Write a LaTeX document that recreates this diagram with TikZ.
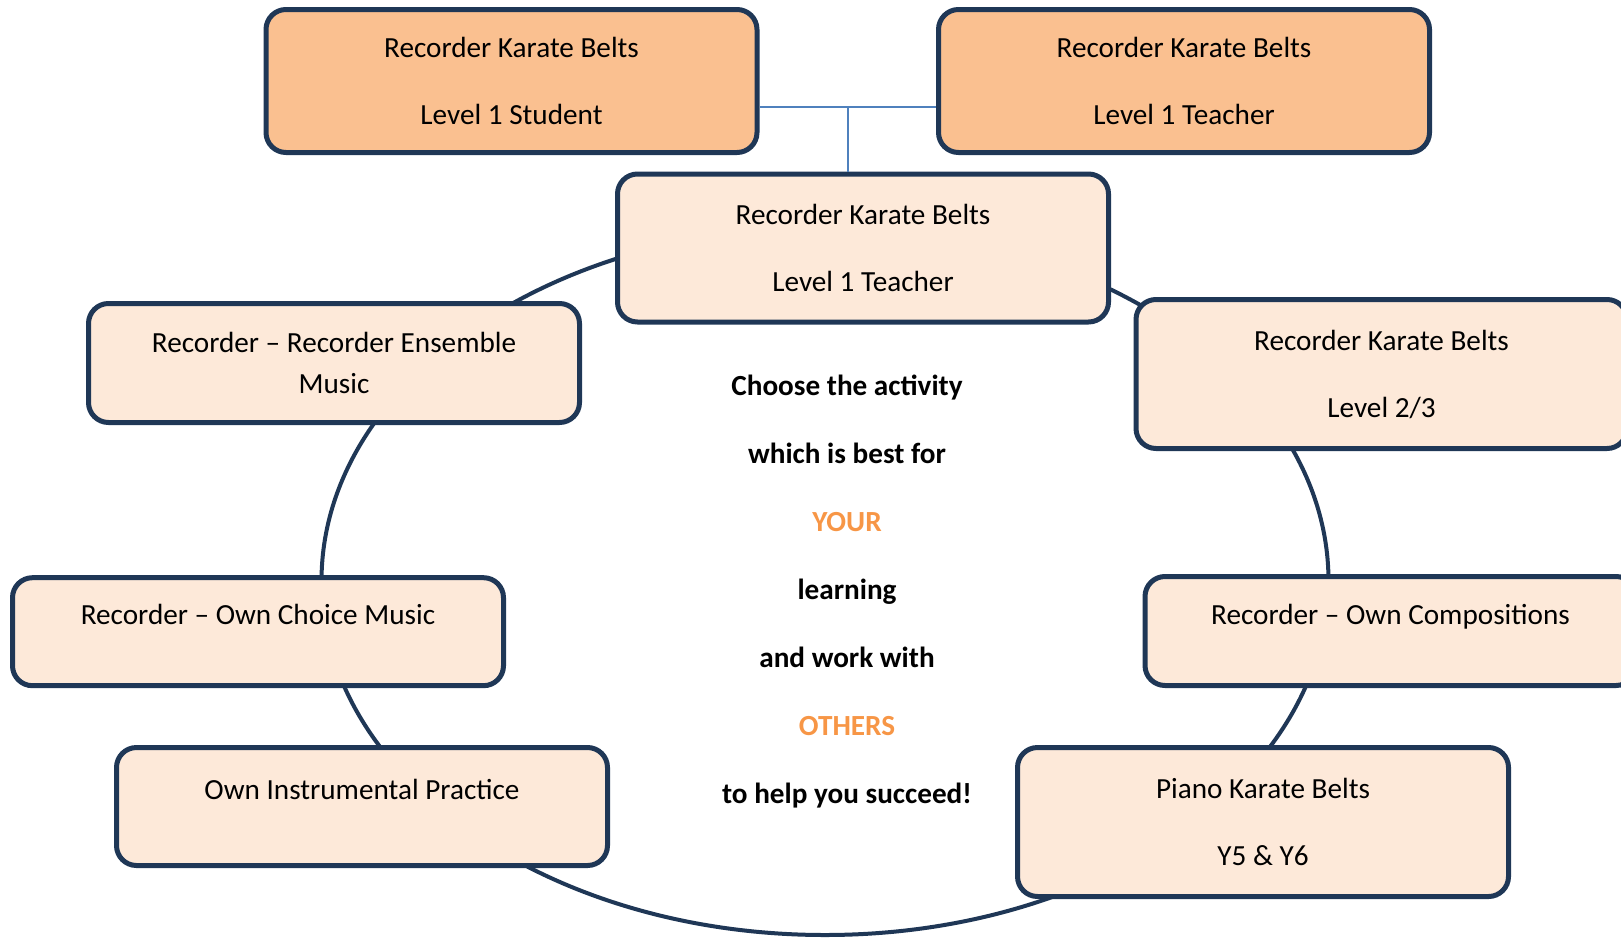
\documentclass[tikz,border=0pt]{standalone}
\usepackage{fontspec}
\setmainfont{Carlito}
\usepackage{xcolor}
\definecolor{navy}{HTML}{1F3756}
\definecolor{peach}{HTML}{FAC090}
\definecolor{cream}{HTML}{FDE9D9}
\definecolor{tangerine}{HTML}{F79646}
\definecolor{wire}{HTML}{4F81BD}
\tikzset{
    belt/.style={
        draw=navy,
        line width=2.5pt,
        rounded corners=10pt,
        fill=cream,
        minimum width=245.5pt,
        inner sep=0pt,
        align=center,
        font=\fontsize{14.6}{17.6}\selectfont
    },
    topbelt/.style={belt,fill=peach},
    oneline/.style={text height=10pt,text depth=17pt},
    ring/.style={draw=navy,line width=2pt},
    wirelink/.style={draw=wire,line width=1pt}
}
\newcommand{\gap}{\\[15.9pt]}

\begin{document}
\begin{tikzpicture}[x=0.5pt,y=-0.5pt]
    \clip (0,0) rectangle (1621,937);
    % the cycle behind the boxes
    \coordinate (hub) at (825,581);
    \draw[ring] (hub) ellipse [x radius=251.75pt, y radius=177pt];
    % top pair
    \node[topbelt,minimum height=71.5pt] (student) at (511.5,81) {Recorder Karate Belts\gap Level 1 Student};
    \node[topbelt,minimum height=71.5pt] (teacher) at (1184,81) {Recorder Karate Belts\gap Level 1 Teacher};
    % round the cycle
    \node[belt,minimum height=74pt] (centre) at (863,248) {Recorder Karate Belts\gap Level 1 Teacher};
    \node[belt,minimum height=74.5pt] (level) at (1381.5,374) {Recorder Karate Belts\gap Level 2/3};
    \node[belt,oneline,minimum height=54.5pt] (compose) at (1390.5,631) {Recorder -- Own Compositions};
    \node[belt,minimum height=74.5pt] (piano) at (1263,822) {Piano Karate Belts\gap Y5 \& Y6};
    \node[belt,oneline,minimum height=59pt] (practice) at (362,806.5) {Own Instrumental Practice};
    \node[belt,oneline,minimum height=54pt] (choice) at (258,631.7) {Recorder -- Own Choice Music};
    \node[belt,minimum height=59.5pt] (ensemble) at (334,363) {Recorder -- Recorder Ensemble\\[3.15pt]Music};
    % middle
    \node[align=center,font=\bfseries\fontsize{14.6}{34}\selectfont] (advice) at (847,592) {Choose the activity\\
        which is best for\\
        \textcolor{tangerine}{YOUR}\\
        learning\\
        and work with\\
        \textcolor{tangerine}{OTHERS}\\
        to help you succeed!};
    % links
    \draw[wirelink] ([yshift=-13pt]student.east) -- coordinate[midway] (fork) ([yshift=-13pt]teacher.west);
    \draw[wirelink] (fork) -- (fork |- centre.north);
\end{tikzpicture}
\end{document}
